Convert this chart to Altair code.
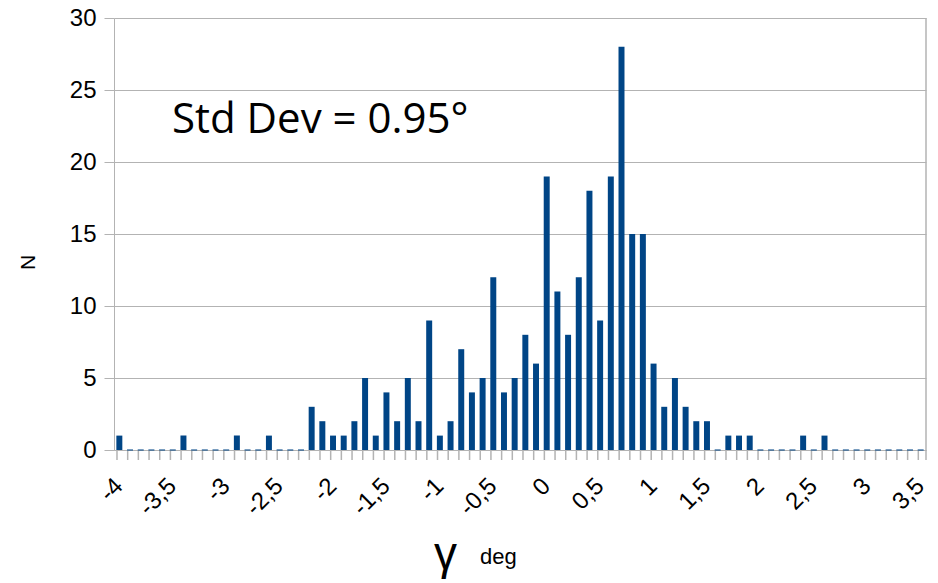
import altair as alt
import pandas as pd

# Histogram bins (centre of each 0.1-degree class) and the counts in each
bins = [
    "-4", "-3,9", "-3,8", "-3,7", "-3,6", "-3,5", "-3,4", "-3,3", "-3,2", "-3,1",
    "-3", "-2,9", "-2,8", "-2,7", "-2,6", "-2,5", "-2,4", "-2,3", "-2,2", "-2,1",
    "-2", "-1,9", "-1,8", "-1,7", "-1,6", "-1,5", "-1,4", "-1,3", "-1,2", "-1,1",
    "-1", "-0,9", "-0,8", "-0,7", "-0,6", "-0,5", "-0,4", "-0,3", "-0,2", "-0,1",
    "0", "0,1", "0,2", "0,3", "0,4", "0,5", "0,6", "0,7", "0,8", "0,9",
    "1", "1,1", "1,2", "1,3", "1,4", "1,5", "1,6", "1,7", "1,8", "1,9",
    "2", "2,1", "2,2", "2,3", "2,4", "2,5", "2,6", "2,7", "2,8", "2,9",
    "3", "3,1", "3,2", "3,3", "3,4", "3,5",
]
counts = [
    1, 0, 0, 0, 0, 0, 1, 0, 0, 0,
    0, 1, 0, 0, 1, 0, 0, 0, 3, 2,
    1, 1, 2, 5, 1, 4, 2, 5, 2, 9,
    1, 2, 7, 4, 5, 12, 4, 5, 8, 6,
    19, 11, 8, 12, 18, 9, 19, 28, 15, 15,
    6, 3, 5, 3, 2, 2, 0, 1, 1, 1,
    0, 0, 0, 0, 1, 0, 1, 0, 0, 0,
    0, 0, 0, 0, 0, 0,
]
x_labels = ["-4", "-3,5", "-3", "-2,5", "-2", "-1,5", "-1", "-0,5",
            "0", "0,5", "1", "1,5", "2", "2,5", "3", "3,5"]
y_ticks = [0, 5, 10, 15, 20, 25, 30]

W, H = 812, 432
GRAY = "#b3b3b3"
BLUE = "#004586"
PAD_INNER = 0.44

df = pd.DataFrame({"bin": bins, "n": counts})

x_enc = alt.X(
    "bin:O",
    sort=bins,
    scale=alt.Scale(paddingInner=PAD_INNER, paddingOuter=PAD_INNER / 2),
    axis=alt.Axis(
        values=x_labels,
        ticks=False,
        grid=False,
        domainColor=GRAY,
        labelAngle=315,
        labelAlign="right",
        labelBaseline="middle",
        labelFont="Liberation Sans",
        labelFontSize=24,
        labelColor="black",
        labelPadding=32,
        title="γ",
        titleFont="Liberation Sans",
        titleFontSize=46,
        titleFontWeight="normal",
        titleColor="black",
        titleX=331,
        titleY=118,
        titleAlign="center",
        titleBaseline="alphabetic",
    ),
)
y_enc = alt.Y(
    "n:Q",
    scale=alt.Scale(domain=[0, 30], nice=False),
    axis=alt.Axis(
        values=y_ticks,
        grid=True,
        gridColor=GRAY,
        domainColor=GRAY,
        tickColor=GRAY,
        tickSize=10,
        labelFont="Liberation Sans",
        labelFontSize=24,
        labelColor="black",
        labelPadding=8,
        title="N",
        titleFont="Liberation Sans",
        titleFontSize=21,
        titleFontWeight="normal",
        titleColor="black",
        titleAngle=270,
        titleX=-86,
        titleY=244,
        titleAlign="center",
        titleBaseline="middle",
    ),
)

base = alt.Chart(df)

bars = base.mark_bar(color=BLUE).encode(x=x_enc, y=y_enc)

# empty classes still show a thin baseline dash
zero_dash = base.mark_tick(color=BLUE, thickness=1.5, size=6).encode(
    x=alt.X("bin:O", sort=bins), y=alt.Y("n:Q")
).transform_filter("datum.n == 0")

# tick marks at the boundaries between classes
step = W / len(bins)
class_ticks = base.mark_rule(color=GRAY, strokeWidth=1.5, xOffset=-step * PAD_INNER / 2).encode(
    x=alt.X("bin:O", sort=bins),
    y=alt.value(H),
    y2=alt.value(H + 10),
)

right_edge = alt.Chart(pd.DataFrame({"k": [0]})).mark_rule(color=GRAY, strokeWidth=1.5).encode(
    x=alt.value(W), y=alt.value(0), y2=alt.value(H + 10)
)

unit = alt.Chart(pd.DataFrame({"t": ["deg"]})).mark_text(
    font="Liberation Sans", fontSize=22, align="left", baseline="alphabetic", color="black"
).encode(text="t:N", x=alt.value(366), y=alt.value(546))

note = alt.Chart(pd.DataFrame({"t": ["Std Dev = 0.95°"]})).mark_text(
    font="Open Sans", fontSize=42, align="left", baseline="alphabetic", color="black"
).encode(text="t:N", x=alt.value(58), y=alt.value(115))

chart = (
    alt.layer(class_ticks, right_edge, bars, zero_dash, unit, note)
    .properties(
        width=W,
        height=H,
        autosize=alt.AutoSizeParams(type="none"),
        padding={"left": 114, "top": 18, "right": 12, "bottom": 133},
        background="white",
    )
    .configure_view(stroke=None)
)

chart.save("out.html", embed_options={"renderer": "svg", "actions": False})
